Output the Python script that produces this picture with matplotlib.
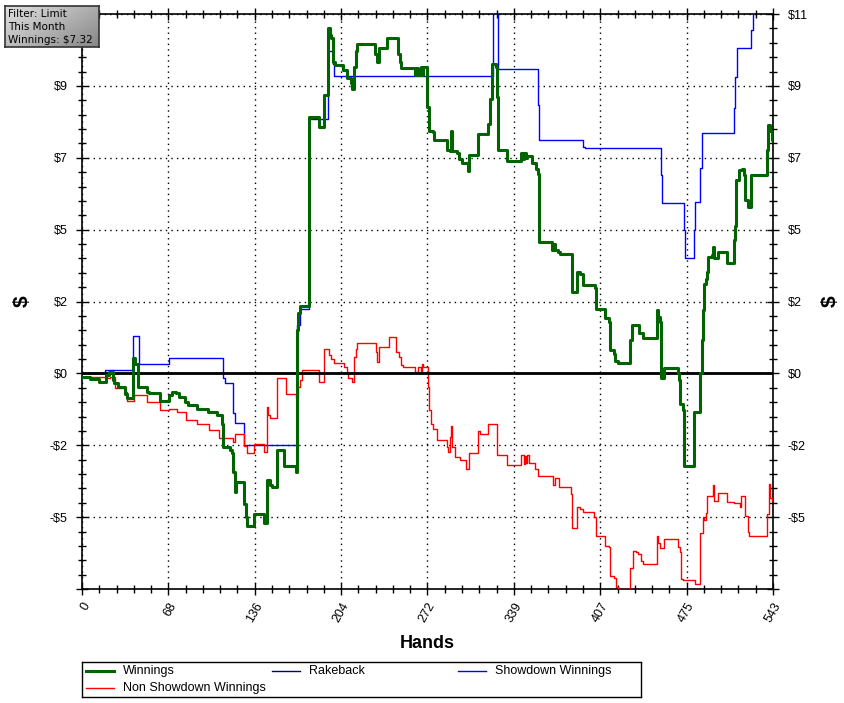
import numpy as np
import matplotlib
matplotlib.use('Agg')
import matplotlib.pyplot as plt
from matplotlib.lines import Line2D

plt.rcParams['font.family'] = ['Liberation Sans', 'DejaVu Sans']

# (hand, cumulative $) breakpoints, drawn as steps
win_pts = [(0, -0.12), (6, -0.19), (13, -0.26), (19, -0.05), (21, 0.05), (24, -0.2), (25, -0.31),
           (28, -0.44), (34, -0.63), (35, -0.78), (40, 0.47), (42, 0.3), (44, -0.43), (51, -0.59),
           (53, -0.62), (61, -0.85), (68, -0.69), (71, -0.59), (74, -0.62), (76, -0.73), (81, -0.9),
           (83, -1.0), (90, -1.1), (99, -1.2), (106, -1.3), (110, -1.57), (111, -2.3), (116, -2.4),
           (118, -2.5), (119, -3.1), (120, -3.7), (121, -3.4), (127, -4.1), (129, -4.5), (130, -4.77),
           (135, -4.4), (143, -4.67), (145, -3.35), (148, -3.5), (149, -3.55), (153, -2.4), (159, -2.9),
           (168, -3.1), (169, 1.35), (170, 1.9), (171, 2.1), (178, 8.02), (186, 7.7), (190, 8.7),
           (193, 10.8), (195, 10.6), (196, 10.5), (197, 9.75), (199, 9.65), (205, 9.5), (208, 9.25),
           (211, 9.1), (212, 8.9), (214, 9.6), (215, 10.1), (216, 10.3), (230, 10.0), (232, 9.75),
           (233, 10.2), (240, 10.5), (248, 10.0), (250, 9.75), (251, 9.57), (262, 9.34), (263, 9.57),
           (264, 9.34), (266, 9.6), (267, 9.34), (268, 9.6), (271, 8.35), (273, 7.6), (276, 7.55),
           (277, 7.3), (287, 7.0), (289, 6.95), (290, 7.6), (291, 6.95), (295, 6.9), (296, 6.7),
           (299, 6.6), (303, 6.35), (304, 6.85), (311, 7.5), (319, 7.8), (321, 8.6), (322, 9.7),
           (325, 9.6), (326, 8.65), (327, 7.0), (334, 6.65), (345, 6.9), (346, 6.7), (347, 6.9),
           (349, 6.75), (350, 6.8), (354, 6.6), (357, 6.4), (358, 6.25), (359, 4.1), (369, 3.85),
           (370, 4.05), (372, 3.85), (374, 3.8), (376, 3.73), (385, 2.54), (389, 3.17), (391, 3.1),
           (394, 2.76), (403, 2.66), (404, 2.03), (411, 1.72), (414, 1.6), (415, 0.72), (418, 0.6),
           (419, 0.4), (421, 0.32), (431, 1.03), (432, 1.5), (438, 1.25), (441, 1.1), (452, 1.97),
           (453, 1.75), (454, 1.6), (455, -0.13), (457, 0.16), (468, 0.0), (469, -0.22), (470, -0.95),
           (472, -1.15), (473, -2.9), (481, -1.22), (486, 0.0), (487, 1.03), (488, 1.97), (489, 2.8),
           (490, 2.96), (491, 3.17), (492, 3.64), (495, 3.7), (496, 3.95), (497, 3.6), (500, 3.8),
           (507, 3.45), (512, 4.17), (513, 4.6), (514, 6.05), (516, 6.36), (519, 6.4), (520, 6.2),
           (521, 5.42), (523, 5.2), (526, 6.2), (538, 7.0), (539, 7.78), (541, 7.6), (542, 7.3),
           (543, 7.32)]

nonsd_pts = [(0, -0.12), (20, -0.15), (22, -0.12), (26, -0.47), (34, -0.59), (35, -0.87), (41, -0.69),
             (51, -0.9), (61, -1.14), (68, -1.1), (75, -1.2), (82, -1.45), (90, -1.6), (100, -1.77),
             (108, -2.03), (119, -2.15), (120, -1.9), (127, -2.27), (130, -2.5), (135, -2.2), (143, -2.47),
             (145, -1.06), (146, -1.3), (148, -1.4), (153, -0.15), (160, -0.63), (168, -0.78), (170, -0.43),
             (171, -0.22), (173, 0.1), (186, -0.27), (190, 0.77), (194, 0.56), (196, 0.45), (198, 0.33),
             (206, 0.2), (208, 0.05), (209, -0.15), (212, -0.26), (214, 0.5), (215, 0.77), (216, 0.95),
             (231, 0.67), (232, 0.35), (233, 0.82), (241, 1.15), (247, 0.67), (249, 0.5), (251, 0.25),
             (252, 0.2), (262, 0.03), (264, 0.2), (266, 0.03), (267, 0.3), (268, 0.2), (272, -0.43),
             (273, -1.16), (274, -1.57), (276, -1.73), (279, -2.1), (287, -2.3), (288, -2.47), (289, -2.0),
             (290, -1.66), (291, -2.3), (293, -2.63), (297, -2.72), (302, -2.98), (304, -2.5), (311, -1.79),
             (313, -1.9), (319, -1.6), (326, -2.54), (334, -2.88), (345, -2.57), (347, -2.85), (348, -2.6),
             (349, -2.8), (350, -2.57), (351, -2.82), (356, -2.98), (358, -3.2), (370, -3.48), (372, -3.26),
             (375, -3.57), (384, -3.77), (385, -4.83), (389, -4.17), (391, -4.23), (394, -4.35), (402, -4.5),
             (404, -5.08), (411, -5.4), (414, -5.45), (415, -6.33), (418, -6.4), (420, -6.7), (421, -6.75),
             (431, -6.1), (433, -5.55), (435, -5.6), (437, -5.64), (439, -5.86), (441, -5.96), (452, -5.08),
             (453, -5.3), (454, -5.48), (457, -5.17), (468, -5.45), (470, -5.6), (471, -6.43), (472, -6.48),
             (482, -6.6), (486, -5.0), (488, -4.5), (489, -4.6), (490, -4.38), (491, -3.83), (496, -3.48),
             (497, -3.98), (500, -3.73), (507, -4.04), (512, -4.07), (517, -4.17), (518, -3.83), (521, -4.45),
             (523, -4.98), (524, -5.08), (538, -4.4), (540, -3.45), (541, -3.89), (542, -3.98), (543, -3.98)]

sd_pts = [(0, 0.0), (18, 0.1), (40, 1.16), (45, 0.29), (68, 0.47), (111, -0.15), (112, -0.31),
          (119, -1.25), (120, -1.55), (127, -2.25), (169, 1.5), (171, 2.0), (178, 7.96), (193, 10.1),
          (197, 9.7), (198, 9.3), (323, 11.5), (327, 9.53), (358, 8.4), (359, 7.3), (394, 7.1),
          (395, 7.05), (455, 6.2), (456, 5.33), (473, 4.48), (474, 3.6), (481, 4.48), (482, 5.36),
          (486, 6.42), (487, 7.52), (512, 8.3), (513, 9.28), (515, 10.2), (526, 10.75), (527, 11.4),
          (543, 11.4)]

rake_pts = [(0, 0.0), (543, 0.0)]

x_ticks = [0, 67.875, 135.75, 203.625, 271.5, 339.375, 407.25, 475.125, 543]
x_labels = ['0', '68', '136', '204', '272', '339', '407', '475', '543']
y_ticks = [11.25, 9.0, 6.75, 4.5, 2.25, 0.0, -2.25, -4.5, -6.75]
y_labels = ['\\$11', '\\$9', '\\$7', '\\$5', '\\$2', '\\$0', '-\\$2', '-\\$5', '']

W, H = 845, 703
fig = plt.figure(figsize=(W / 100, H / 100), dpi=100)
ax = fig.add_axes([82 / W, 1 - 589 / H, 691 / W, 575 / H])

def draw(pts, **kw):
    h, v = zip(*pts)
    ax.step(h, v, where='post', **kw)

draw(rake_pts, color='#000080', lw=1.0, zorder=3)
draw(sd_pts, color='#0000ff', lw=1.0, zorder=3)
draw(nonsd_pts, color='#ff0000', lw=1.0, zorder=3)
ax.axhline(0, color='black', lw=2.0, zorder=4)
draw(win_pts, color='#006400', lw=2.2, zorder=5)

ax.set_xlim(0, 543)
ax.set_ylim(-6.75, 11.25)
ax.set_xticks(x_ticks)
ax.set_xticklabels(x_labels, rotation=60, ha='right', va='top', rotation_mode='anchor', fontsize=9)
ax.set_xticks(np.arange(0, 543.1, 543 / 40), minor=True)
ax.set_yticks(y_ticks)
ax.set_yticklabels(y_labels, fontsize=9)
ax.set_yticks(np.arange(-6.75, 11.3, 0.45), minor=True)
ax.tick_params(which='both', direction='inout', top=True, right=True, labelright=True,
               width=1.0, colors='black')
ax.tick_params(which='major', length=9, pad=6)
ax.tick_params(which='minor', length=6)
ax.tick_params(axis='x', which='major', pad=4)
# the left $11 label sits under the filter box
ax.yaxis.get_major_ticks()[0].label1.set_visible(False)
ax.grid(True, which='major', color='black', linestyle=(0, (1, 3)), lw=1.0)
ax.set_axisbelow(True)
for s in ax.spines.values():
    s.set_linewidth(1.2)

fig.text(427 / W, 1 - 643 / H, 'Hands', fontsize=13, fontweight='bold', ha='center', va='center')
fig.text(22 / W, 1 - 301 / H, '\\$', rotation=90, fontsize=15, fontweight='bold',
         ha='center', va='center')
fig.text(830 / W, 1 - 301 / H, '\\$', rotation=90, fontsize=15, fontweight='bold',
         ha='center', va='center')

# legend box under the plot
lax = fig.add_axes([82 / W, 1 - 697 / H, 559 / W, 35 / H])
lax.set_xlim(0, 559)
lax.set_ylim(35, 0)
lax.set_xticks([])
lax.set_yticks([])
for s in lax.spines.values():
    s.set_linewidth(1.0)
entries = [('Winnings', '#006400', 2.2, 4, 9),
           ('Rakeback', '#000080', 1.0, 190, 9),
           ('Showdown Winnings', '#0000ff', 1.0, 376, 9),
           ('Non Showdown Winnings', '#ff0000', 1.0, 4, 26)]
for name, col, lw, x0, y0 in entries:
    lax.add_line(Line2D([x0, x0 + 28], [y0, y0], color=col, lw=lw))
    lax.text(x0 + 37, y0, name, fontsize=9, va='center', ha='left')

# filter info box in the corner
bax = fig.add_axes([5 / W, 1 - 47 / H, 94 / W, 41 / H])
gx, gy = np.meshgrid(np.linspace(0, 1, 60), np.linspace(0, 1, 30))
grad = 0.88 - 0.35 * (0.6 * gx + 0.4 * gy)
bax.imshow(grad, cmap='gray', vmin=0, vmax=1, aspect='auto', extent=(0, 94, 41, 0))
bax.set_xlim(0, 94)
bax.set_ylim(41, 0)
bax.set_xticks([])
bax.set_yticks([])
for s in bax.spines.values():
    s.set_linewidth(1.2)
    s.set_color('#333333')
for i, t in enumerate(['Filter: Limit', 'This Month', 'Winnings: \\$7.32']):
    bax.text(3, 8 + i * 13, t, fontsize=7.5, va='center', ha='left', family='DejaVu Sans')

fig.savefig('out.png', dpi=100)
